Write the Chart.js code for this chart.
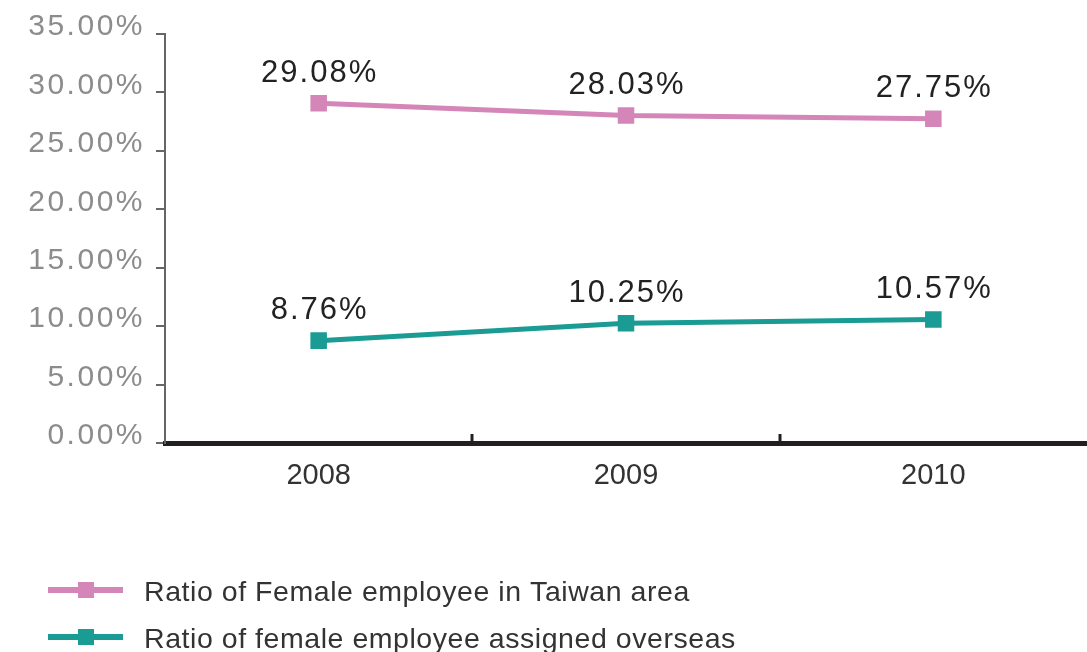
<!DOCTYPE html>
<html>
<head>
<meta charset="utf-8">
<title>Ratio of female employees</title>
<script src="https://cdn.jsdelivr.net/npm/chart.js@4.4.1/dist/chart.umd.min.js"></script>
<style>
  html, body { margin: 0; padding: 0; background: #ffffff; overflow: hidden; }
  #chart { display: block; }
</style>
</head>
<body>
<canvas id="chart" width="1087" height="652"></canvas>
<script>
// Years on the category axis
const categories = ['2008', '2009', '2010'];
// Ratio of female employees (percent)
const taiwanRatio = [29.08, 28.03, 27.75];
const overseasRatio = [8.76, 10.25, 10.57];
// Series names
const seriesNames = [
  'Ratio of Female employee in Taiwan area',
  'Ratio of female employee assigned overseas'
];
// Value axis range and step
const yMin = 0, yMax = 35, yStep = 5;

const PINK = '#D486B9';
const TEAL = '#1A9B94';
const FONT = '"Liberation Sans", Arial, Helvetica, sans-serif';

// Wide tracking for the value-axis labels (drawn before the datasets)
const trackingPlugin = {
  id: 'tracking',
  beforeDraw(chart) { chart.ctx.letterSpacing = '2.5px'; },
  beforeDatasetsDraw(chart) { chart.ctx.letterSpacing = '0px'; }
};

// Short inward ticks on the category axis, between categories
const innerTicksPlugin = {
  id: 'innerTicks',
  afterDraw(chart) {
    const x = chart.scales.x;
    const ctx = chart.ctx;
    const bottom = chart.chartArea.bottom;
    ctx.save();
    ctx.strokeStyle = '#231F20';
    ctx.lineWidth = 3;
    for (let i = 1; i < categories.length; i++) {
      const px = Math.round((x.getPixelForValue(i - 1) + x.getPixelForValue(i)) / 2);
      ctx.beginPath();
      ctx.moveTo(px, bottom);
      ctx.lineTo(px, bottom - 9);
      ctx.stroke();
    }
    ctx.restore();
  }
};

// Value labels above each point
const valueLabelsPlugin = {
  id: 'valueLabels',
  afterDatasetsDraw(chart) {
    const ctx = chart.ctx;
    const spacing = 2;
    ctx.save();
    ctx.letterSpacing = spacing + 'px';
    ctx.font = '31px ' + FONT;
    ctx.fillStyle = '#222222';
    ctx.textAlign = 'center';
    ctx.textBaseline = 'middle';
    chart.data.datasets.forEach((ds, di) => {
      const meta = chart.getDatasetMeta(di);
      meta.data.forEach((pt, i) => {
        const text = ds.data[i].toFixed(2) + '%';
        ctx.fillText(text, pt.x + spacing / 2, pt.y - 30);
      });
    });
    ctx.restore();
  }
};

// Legend rows: line with a square marker, then the series name
const legendPlugin = {
  id: 'lineLegend',
  afterDraw(chart) {
    const ctx = chart.ctx;
    const rows = [590, 637];
    ctx.save();
    chart.data.datasets.forEach((ds, i) => {
      const y = rows[i];
      ctx.strokeStyle = ds.borderColor;
      ctx.lineWidth = 6;
      ctx.beginPath();
      ctx.moveTo(48, y);
      ctx.lineTo(123, y);
      ctx.stroke();
      ctx.fillStyle = ds.borderColor;
      ctx.fillRect(78, y - 8, 16, 16);
      ctx.font = '28.5px ' + FONT;
      ctx.letterSpacing = '0.55px';
      ctx.fillStyle = '#333333';
      ctx.textAlign = 'left';
      ctx.textBaseline = 'middle';
      ctx.fillText(ds.label, 144, y + 3);
    });
    ctx.restore();
  }
};

new Chart(document.getElementById('chart'), {
  type: 'line',
  data: {
    labels: categories,
    datasets: [
      {
        label: seriesNames[0],
        data: taiwanRatio,
        borderColor: PINK,
        backgroundColor: PINK,
        borderWidth: 5,
        pointStyle: 'rect',
        pointRadius: 11.7,
        pointBorderWidth: 0,
        pointBackgroundColor: PINK,
        tension: 0
      },
      {
        label: seriesNames[1],
        data: overseasRatio,
        borderColor: TEAL,
        backgroundColor: TEAL,
        borderWidth: 5,
        pointStyle: 'rect',
        pointRadius: 11.7,
        pointBorderWidth: 0,
        pointBackgroundColor: TEAL,
        tension: 0
      }
    ]
  },
  options: {
    responsive: false,
    maintainAspectRatio: false,
    animation: false,
    layout: { autoPadding: false, padding: { top: 34, left: 0, right: 0, bottom: 0 } },
    plugins: {
      legend: { display: false },
      tooltip: { enabled: false }
    },
    scales: {
      x: {
        type: 'category',
        offset: true,
        grid: { display: true, drawOnChartArea: false, drawTicks: false, offset: true, color: 'rgba(0,0,0,0)' },
        border: { display: true, color: '#231F20', width: 5 },
        ticks: {
          z: 1,
          padding: 16,
          color: '#333333',
          font: { family: FONT, size: 29 }
        },
        afterFit(scale) {
          scale.height = 209;
          scale.paddingLeft = 0;
          scale.paddingRight = 0;
        }
      },
      y: {
        min: yMin,
        max: yMax,
        grid: { display: true, drawOnChartArea: false, drawTicks: true, tickLength: 9, color: '#666666', lineWidth: 2 },
        border: { display: true, color: '#666666', width: 2 },
        ticks: {
          stepSize: yStep,
          padding: 11,
          labelOffset: -7,
          color: '#8C8C8C',
          font: { family: FONT, size: 30 },
          callback: (v) => Number(v).toFixed(2) + '%'
        },
        afterFit(scale) {
          scale.width = 165;
          scale.paddingTop = 0;
          scale.paddingBottom = 0;
        }
      }
    }
  },
  plugins: [trackingPlugin, innerTicksPlugin, valueLabelsPlugin, legendPlugin]
});
</script>
</body>
</html>
